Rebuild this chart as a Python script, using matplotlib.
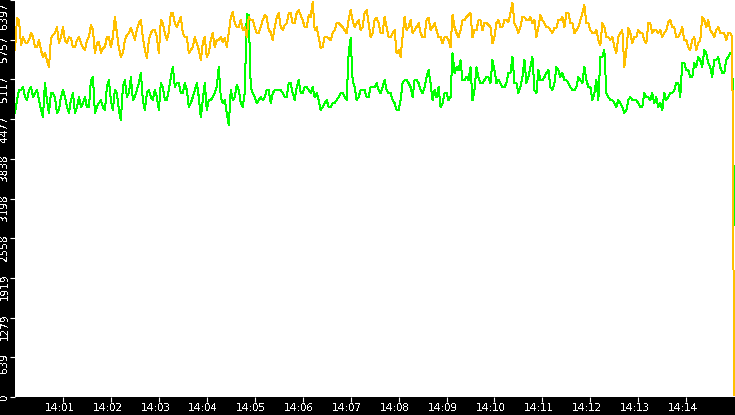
import numpy as np
import pandas as pd
import matplotlib
matplotlib.use("Agg")
import matplotlib.pyplot as plt
from matplotlib.transforms import ScaledTranslation
import matplotlib.font_manager as fm

# samples every 2.5 s from 14:00:00 to 14:15:00
start = "2024-01-01 14:00:00"
step = "2500ms"

# values on the 5 s grid
yellow_a = [
    5590, 6073, 5800, 5703, 5864, 5639, 5751, 5477, 5429, 5783, 5864, 5703, 5961, 5703, 5783,
    5639, 5800, 5639, 5751, 5993, 5542, 5719, 5622, 5800, 5639, 6122, 5622, 5542, 5832, 5945,
    5751, 6025, 5800, 5461, 5864, 5912, 5542, 6025, 5751, 6186, 6025, 6041, 5864, 5800, 5590,
    5800, 5590, 5703, 5477, 5751, 5639, 5751, 5719, 5639, 6122, 6025, 5961, 5912, 5800, 6073,
    5961, 5864, 6073, 6122, 5880, 5961, 6186, 5912, 6025, 6186, 6025, 6235, 6073, 5961, 6122,
    5912, 5800, 5639, 5800, 5751, 5912, 6025, 5961, 5864, 6235, 5961, 6073, 5961, 6235, 5800,
    6073, 6025, 5864, 5961, 5800, 5912, 5590, 5800, 5912, 6073, 5912, 6025, 5800, 6073, 5912,
    6025, 5800, 5703, 5800, 5639, 5961, 5800, 6073, 6122, 6186, 5912, 6073, 5912, 6025, 5961,
    5800, 6073, 5961, 6073, 6186, 6025, 5864, 6122, 6073, 6122, 6073, 5961, 6073, 5961, 5912,
    5945, 6073, 6122, 6186, 6025, 5864, 5961, 6186, 6025, 5912, 5864, 5751, 6025, 5800, 5751,
    5639, 5800, 5912, 5590, 5864, 5800, 5912, 5864, 5703, 6025, 5912, 5864, 5800, 5912, 6073,
    5961, 5800, 5961, 5751, 5590, 5800, 5703, 6122, 5961, 5912, 5800, 5961, 5864, 5751, 5864,
    30,
]
# values half-way between the 5 s points
yellow_b = [
    6106, 5671, 5719, 5751, 5800, 5639, 5590, 5542, 5316, 5832, 5961, 5800, 5751, 5800, 5639,
    5751, 5703, 5590, 5800, 5912, 5703, 5542, 5639, 5800, 5800, 5864, 5477, 5751, 5864, 5864,
    5912, 6073, 5590, 5751, 5912, 5800, 6073, 5864, 5880, 6186, 5961, 6122, 5800, 5542, 5639,
    5703, 5429, 5800, 5542, 5864, 5751, 5800, 5783, 5864, 6202, 5961, 6073, 5961, 6122, 6073,
    5864, 5961, 6154, 5912, 5751, 6122, 5961, 5993, 6186, 6025, 6186, 6154, 5961, 6154, 6363,
    5961, 5622, 5800, 5783, 5864, 6025, 5993, 5912, 6073, 6073, 6025, 5912, 6186, 6025, 5864,
    6106, 5864, 6122, 5800, 5864, 5542, 5477, 6122, 5961, 5864, 5961, 5864, 5800, 6106, 5961,
    5912, 5800, 5800, 5751, 6154, 5864, 5912, 6073, 6154, 5800, 5912, 6073, 6025, 5993, 5703,
    6025, 5961, 6073, 6041, 6347, 5961, 5961, 6122, 6073, 6025, 5800, 6154, 6025, 5961, 5864,
    5945, 6073, 5961, 6186, 6025, 5912, 6073, 6315, 6025, 5864, 5912, 5671, 5961, 5800, 5800,
    5542, 5864, 5316, 5945, 5703, 5800, 5864, 5751, 6025, 5864, 5912, 5912, 5864, 6041, 5961,
    5800, 5864, 5751, 5639, 5751, 5590, 5751, 6073, 6073, 5864, 5912, 5864, 5864, 5864, 5800,
]

green_a = [
    4575, 4946, 4994, 4785, 4994, 4897, 4785, 4511, 4785, 4897, 4833, 4624, 4946, 4672, 4785,
    4575, 4833, 4736, 4672, 5107, 4575, 4736, 4672, 4994, 4785, 4946, 4624, 4994, 4833, 5155,
    4833, 5059, 4785, 4897, 4833, 4946, 4624, 4994, 4785, 5155, 4994, 5059, 4897, 4946, 4736,
    4946, 4833, 4785, 4624, 4785, 4897, 5316, 4736, 4575, 4946, 4833, 4946, 4672, 6170, 4994,
    4833, 4785, 4785, 4946, 4736, 4946, 4946, 4897, 4833, 5059, 4785, 5107, 4897, 4994, 4897,
    4833, 4785, 4672, 4785, 4672, 4736, 4833, 4897, 4785, 5783, 4994, 4833, 4946, 4833, 4994,
    4994, 4946, 4994, 4946, 4897, 4736, 4624, 5059, 5107, 4994, 5107, 5059, 4897, 5155, 5059,
    4946, 4994, 4736, 4897, 4833, 5220, 5268, 5107, 5155, 5316, 4946, 5155, 5059, 5155, 5059,
    5268, 5107, 4994, 5059, 5220, 5059, 4897, 5155, 5059, 5316, 4946, 5268, 5107, 5220, 4994,
    5059, 5268, 5220, 5107, 4994, 4946, 5155, 5059, 5107, 4994, 4897, 4785, 5477, 4897, 4785,
    4736, 4785, 4672, 4624, 4833, 4785, 4736, 4672, 4833, 4785, 4736, 4672, 4624, 4785, 4897,
    4946, 5059, 5381, 5268, 5155, 5381, 5477, 5316, 5542, 5316, 5429, 5477, 5220, 5429, 5542,
    2770,
]
green_b = [
    4785, 4946, 4833, 4946, 4833, 4946, 4624, 5059, 4575, 4897, 4575, 4833, 4833, 4575, 4897,
    4672, 4672, 4833, 4672, 5155, 4672, 4785, 4624, 5107, 4624, 4897, 4462, 5107, 4897, 4785,
    4946, 5220, 4624, 4946, 4785, 4833, 5059, 4785, 4946, 5316, 5059, 4897, 5059, 4672, 4833,
    5059, 4511, 5059, 4785, 4833, 4994, 4833, 4785, 4382, 4785, 5026, 4736, 4897, 6154, 4897,
    4736, 4833, 4833, 4946, 4897, 4946, 4946, 4833, 5059, 4897, 4994, 4897, 4994, 4946, 4994,
    4897, 4624, 4736, 4672, 4736, 4785, 4897, 4833, 5542, 5107, 4785, 4946, 4946, 4833, 4994,
    5059, 4897, 5107, 4897, 4785, 4624, 4785, 5107, 5059, 4833, 5107, 4946, 4994, 5268, 4785,
    4833, 4672, 4897, 4785, 5542, 5316, 5429, 5107, 5107, 4785, 5316, 5059, 5107, 5155, 5429,
    5059, 5059, 4994, 5220, 5477, 5059, 4994, 5429, 5155, 5477, 4897, 5107, 5155, 5268, 4946,
    5316, 5155, 5107, 5059, 4946, 4994, 5107, 5316, 4994, 4785, 5107, 5477, 5590, 4833, 4785,
    4672, 4736, 4575, 4785, 4785, 4785, 4672, 4897, 4833, 4897, 4833, 4736, 4897, 4833, 4897,
    5059, 4833, 5381, 5268, 5155, 5316, 5429, 5590, 5381, 5155, 5429, 5316, 5220, 5477, 5542,
]

y_ticks = [0, 639.7, 1279.4, 1919.1, 2558.8, 3198.5, 3838.2, 4477.9, 5117.6, 5757.3, 6397]
y_labels = ["0", "639", "1279", "1919", "2558", "3198", "3838", "4477", "5117", "5757", "6397"]
x_labels = ["14:%02d" % m for m in range(1, 15)]


def interleave(a, b):
    out = np.empty(len(a) + len(b))
    out[0::2] = a
    out[1::2] = b
    return out


yellow = interleave(yellow_a, yellow_b)
green = interleave(green_a, green_b)
times = pd.date_range(start, periods=len(yellow), freq=step)

# narrow font for the small axis labels, if it is there
names = {f.name for f in fm.fontManager.ttflist}
label_font = "Liberation Sans Narrow" if "Liberation Sans Narrow" in names else "DejaVu Sans"
plt.rcParams["text.antialiased"] = False

fig = plt.figure(figsize=(7.35, 4.15), dpi=100, facecolor="black")
ax = fig.add_axes([15 / 735, 18 / 415, 720 / 735, 397 / 415])
ax.set_facecolor("white")

ax.plot(times, green, color="#00ff00", lw=0.72, antialiased=False)
ax.plot(times, yellow, color="#ffc000", lw=0.72, antialiased=False)

ax.set_xlim(times[0], times[-1] + pd.Timedelta(seconds=1))
ax.set_ylim(0, 6397)

ax.set_yticks(y_ticks)
ax.set_yticklabels(y_labels, rotation=90, va="top", family=label_font)
xt = pd.date_range("2024-01-01 14:01:00", periods=14, freq="1min")
ax.set_xticks(xt)
ax.set_xticklabels(x_labels, family=label_font)

ax.tick_params(axis="both", colors="white", labelsize=7.5, length=3.6, width=0.8)
ax.tick_params(axis="y", pad=0.3)
ax.tick_params(axis="x", pad=0.8)
for s in ax.spines.values():
    s.set_visible(False)

# labels sit a little before their tick, as in the source app
px = 1 / 100
for lab in ax.get_xticklabels():
    lab.set_transform(lab.get_transform() + ScaledTranslation(-3.5 * px, 0, fig.dpi_scale_trans))
ylabs = ax.get_yticklabels()
for lab in ylabs[:-1]:
    lab.set_transform(lab.get_transform() + ScaledTranslation(0, 4 * px, fig.dpi_scale_trans))
ylabs[-1].set_transform(ylabs[-1].get_transform() + ScaledTranslation(0, -2 * px, fig.dpi_scale_trans))

fig.savefig("out.png", dpi=100, facecolor="black")
